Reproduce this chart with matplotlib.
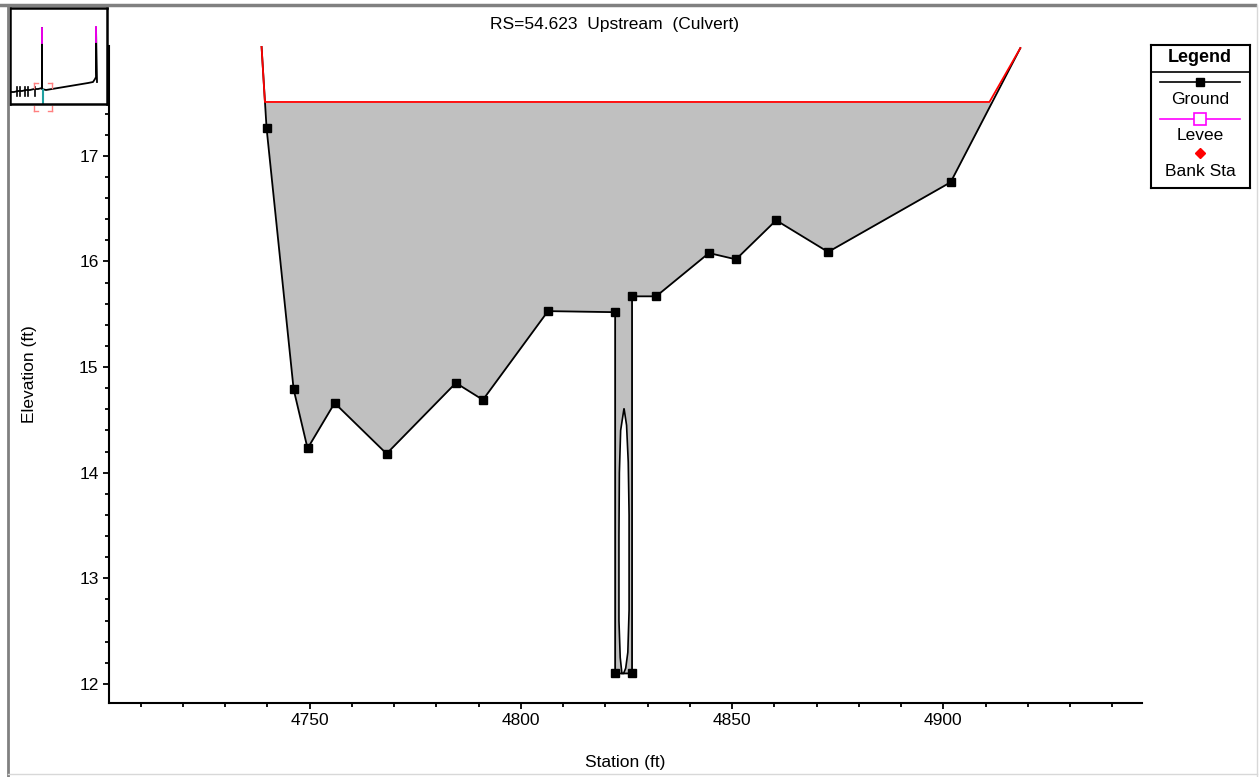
import matplotlib
matplotlib.use("Agg")
import matplotlib.pyplot as plt
from matplotlib.lines import Line2D
from matplotlib.ticker import MultipleLocator
import numpy as np

plt.rcParams['font.family'] = ['Liberation Sans', 'DejaVu Sans']

# cross section ground (station, elevation)
estacion = [4738.6, 4739.8, 4746.2, 4749.5, 4755.9, 4768.2, 4784.6, 4791.0, 4806.4,
            4822.3, 4822.3, 4826.3, 4826.3, 4832.0, 4844.5, 4850.9, 4860.4, 4872.7,
            4901.7, 4918.2]
elevacion = [18.04, 17.26, 14.79, 14.23, 14.66, 14.18, 14.85, 14.69, 15.53,
             15.52, 12.10, 12.10, 15.67, 15.67, 16.08, 16.02, 16.39, 16.09,
             16.75, 18.02]
con_marca = list(range(1, len(estacion) - 1))

# water surface / top line
ws_estacion = [4738.6, 4739.4, 4910.9, 4918.2]
ws_elevacion = [18.04, 17.51, 17.51, 18.02]
ws_nivel = 17.51

# culvert opening inside the slot
alc_estacion = [4824.4, 4823.6, 4823.3, 4823.2, 4823.2, 4823.5, 4823.9, 4824.3, 4824.8,
                4825.3, 4825.6, 4825.6, 4825.4, 4825.0, 4824.4]
alc_elevacion = [14.61, 14.40, 14.00, 13.40, 12.60, 12.25, 12.10, 12.10, 12.15,
                 12.30, 12.70, 13.60, 14.10, 14.45, 14.61]

# reach overview thumbnail (pixel-like units of the small window)
mini_x = [10, 14, 18, 22, 26, 30, 34, 38, 42, 42, 42, 46, 52, 58, 64, 70, 76, 82, 88, 93, 95, 96, 96, 97]
mini_y = [92, 92, 91, 91, 90, 90, 89, 89, 88, 28, 89, 90, 89, 88, 87, 86, 85, 84, 83, 82, 79, 77, 27, 82]
mini_pts = [17, 20, 25, 28, 35]

fig = plt.figure(figsize=(12.6, 7.77), dpi=100)
W, H = 1260, 777
FS = 12.5


def caja(x0, y0, x1, y1):
    return [x0 / W, 1 - y1 / H, (x1 - x0) / W, (y1 - y0) / H]


ax = fig.add_axes(caja(109, 46, 1142, 703))
ax.fill_between(estacion, elevacion, ws_nivel, where=np.array(elevacion) <= ws_nivel,
                interpolate=True, color='#c0c0c0', lw=0, zorder=1)
ax.fill(alc_estacion, alc_elevacion, facecolor='white', edgecolor='black', lw=1.2, zorder=3)
ax.plot(estacion, elevacion, color='black', lw=1.3, marker='s', ms=6,
        markevery=con_marca, zorder=4)
ax.plot(ws_estacion, ws_elevacion, color='red', lw=1.3, zorder=5)

ax.set_xlim(4702.5, 4947)
ax.set_ylim(11.82, 18.04)
ax.xaxis.set_major_locator(MultipleLocator(50))
ax.xaxis.set_minor_locator(MultipleLocator(10))
ax.yaxis.set_major_locator(MultipleLocator(1))
ax.yaxis.set_minor_locator(MultipleLocator(0.2))
ax.tick_params(which='major', length=4.5, width=1.3, labelsize=FS, pad=3)
ax.tick_params(which='minor', length=3, width=1.3)
for lado in ['top', 'right']:
    ax.spines[lado].set_visible(False)
for lado in ['left', 'bottom']:
    ax.spines[lado].set_linewidth(1.5)
ax.set_xlabel('Station (ft)', fontsize=FS, labelpad=19)
ax.set_ylabel('Elevation (ft)', fontsize=FS, labelpad=30)
fig.text(615 / W, 1 - 24 / H, 'RS=54.623  Upstream  (Culvert)', ha='center', va='center', fontsize=FS)

# overview thumbnail
axm = fig.add_axes(caja(10, 8, 107, 104))
axm.set_xlim(10, 107)
axm.set_ylim(104, 8)
axm.plot(mini_x, mini_y, color='black', lw=1.3)
axm.plot([42, 42], [28, 43], color='magenta', lw=1.3)
axm.plot([96, 96], [27, 42], color='magenta', lw=1.3)
for px in mini_pts:
    axm.plot([px, px], [87, 96], color='black', lw=1.2)
axm.plot([43, 43], [90, 104], color='#20a0a0', lw=1.5)
for yy, dy in [(83, 5), (111, -5)]:
    for (xa, xb) in [(34, 38), (48, 52)]:
        axm.plot([xa, xb], [yy, yy], color='#ff8080', lw=1, clip_on=False)
    for xx in [34, 52]:
        axm.plot([xx, xx], [yy, yy + dy], color='#ff8080', lw=1, clip_on=False)
axm.set_xticks([])
axm.set_yticks([])
for s in axm.spines.values():
    s.set_linewidth(1.8)

# legend box
axl = fig.add_axes(caja(1151, 45, 1250, 188))
axl.set_xlim(1151, 1250)
axl.set_ylim(188, 45)
axl.set_xticks([])
axl.set_yticks([])
for s in axl.spines.values():
    s.set_linewidth(1.5)
axl.axhline(72, color='black', lw=1.2)
axl.text(1200, 58, 'Legend', ha='center', va='center', fontsize=13, fontweight='bold')
axl.plot([1160, 1240], [82, 82], color='black', lw=1.2)
axl.plot([1200], [82], marker='s', color='black', ms=6)
axl.text(1200, 100, 'Ground', ha='center', va='center', fontsize=FS)
axl.plot([1160, 1240], [119, 119], color='magenta', lw=1.2)
axl.plot([1200], [119], marker='s', mfc='white', mec='magenta', ms=8, mew=1.2)
axl.text(1200, 135, 'Levee', ha='center', va='center', fontsize=FS)
axl.plot([1200], [153], marker='D', color='red', ms=5)
axl.text(1200, 171, 'Bank Sta', ha='center', va='center', fontsize=FS)

# window frame
fig.add_artist(Line2D([0, 1255 / W], [1 - 5 / H, 1 - 5 / H], color='#808080', lw=2.5))
fig.add_artist(Line2D([8 / W, 8 / W], [0, 1 - 5 / H], color='#808080', lw=2))
fig.add_artist(Line2D([1257 / W, 1257 / W], [0, 1 - 5 / H], color='#d8d8d8', lw=1))
fig.add_artist(Line2D([8 / W, 1257 / W], [3 / H, 3 / H], color='#d8d8d8', lw=1))

fig.savefig('out.png', dpi=100)
